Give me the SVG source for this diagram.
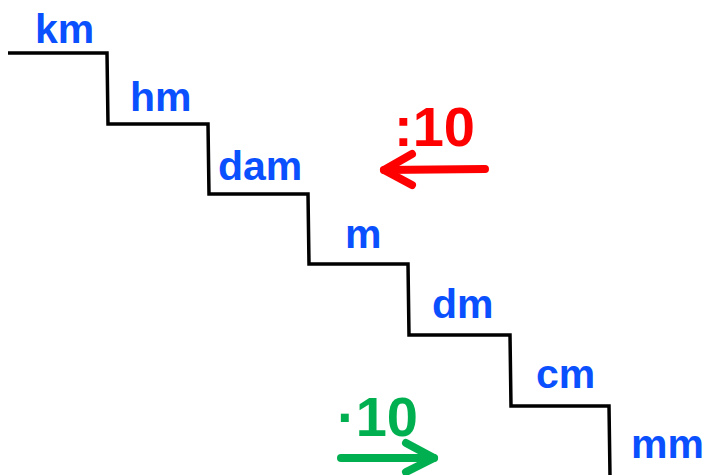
<svg xmlns="http://www.w3.org/2000/svg" width="706" height="475" viewBox="0 0 706 475">
<style>
.u{font-family:"Liberation Sans",Arial,sans-serif;font-weight:bold;font-size:41px;fill:#0a50ff}
.big{font-family:"Liberation Sans",Arial,sans-serif;font-weight:bold;font-size:56px}
.ar{fill:none;stroke-width:8;stroke-linecap:round;stroke-linejoin:round}
</style>
<rect width="706" height="475" fill="#ffffff"/>
<g id="stairs">
<polyline points="8,53 107,53 108,124 208,124 209,194 308,194 309,264 408,264 409,335 510,335 511,406 609,406 610,476" fill="none" stroke="#000" stroke-width="3.5"/>
</g>
<g id="km"><text class="u" x="35" y="43">km</text></g>
<g id="hm"><text class="u" x="130" y="111">hm</text></g>
<g id="dam"><text class="u" x="218" y="180">dam</text></g>
<g id="m"><text class="u" x="345" y="248">m</text></g>
<g id="dm"><text class="u" x="432" y="318">dm</text></g>
<g id="cm"><text class="u" x="536" y="388">cm</text></g>
<g id="mm"><text class="u" x="631" y="458">mm</text></g>
<g id="div"><text class="big" x="394" y="146" fill="#ff0000">:10</text></g>
<g id="mul"><text class="big" x="337" y="436" fill="#00b050">·10</text></g>
<g id="connectors">
<g class="ar" stroke="#ff0000"><path d="M485,169 L384,170"/><path d="M412,154 L384,170 L412,185"/></g>
<g class="ar" stroke="#00b050"><path d="M341,458 L434,458"/><path d="M406,443 L434,458 L406,472"/></g>
</g>
</svg>
